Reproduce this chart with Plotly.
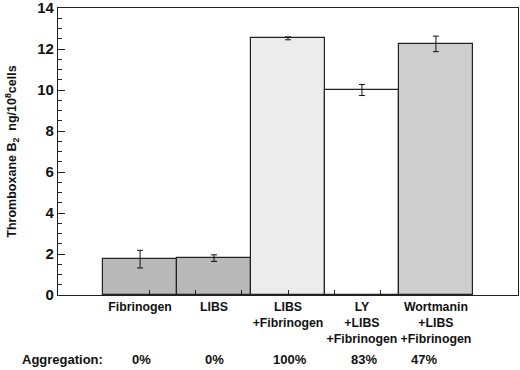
import plotly.graph_objects as go

categories = ["Fibrinogen", "LIBS", "LIBS<br>+Fibrinogen", "LY<br>+LIBS<br>+Fibrinogen", "Wortmanin<br>+LIBS<br>+Fibrinogen"]
txb2 = [1.75, 1.8, 12.52, 10.0, 12.25]
txb2_err = [0.43, 0.16, 0.07, 0.27, 0.38]
aggregation = ["0%", "0%", "100%", "83%", "47%"]
y_ticks = [0, 2, 4, 6, 8, 10, 12, 14]
bottom_minor_ticks = [0.125, 0.75, 1.375, 2.0, 2.625, 3.25]

bar_colors = ["#b9b9b9", "#b9b9b9", "#ececec", "#ffffff", "#cecece"]
agg_xshift = [1, 0, 2, 2, -12]
xpos = list(range(len(categories)))

fig = go.Figure()
fig.add_trace(go.Bar(
    x=xpos, y=txb2, width=1.0,
    marker=dict(color=bar_colors, line=dict(color="#222222", width=1.2)),
    error_y=dict(type="data", array=txb2_err, color="#111111", thickness=1, width=3),
    showlegend=False, hoverinfo="skip",
))

font_b = dict(family="Liberation Sans, Arial, sans-serif", color="#111111", weight="bold")

fig.update_layout(
    width=520, height=370,
    margin=dict(l=58, r=2, t=8, b=75, autoexpand=False),
    paper_bgcolor="white", plot_bgcolor="white",
    bargap=0,
    xaxis=dict(
        range=[-1.11, 5.11], tickvals=xpos, ticktext=categories, tickangle=0,
        ticks="", showgrid=False, zeroline=False, automargin=False,
        showline=True, linecolor="#222222", linewidth=1.2, mirror=True,
        tickfont=dict(size=12.3, **font_b),
        minor=dict(tickvals=bottom_minor_ticks, ticks="inside", ticklen=5, tickcolor="#222222"),
    ),
    yaxis=dict(
        range=[0, 14], tickvals=y_ticks, ticks="inside", ticklen=7, tickcolor="#222222",
        showgrid=False, zeroline=False, ticklabeloverflow="allow", automargin=False,
        showline=True, linecolor="#222222", linewidth=1.2, mirror=True,
        tickfont=dict(size=15, **font_b),
        minor=dict(dtick=0.5, ticks="inside", ticklen=4, tickcolor="#222222"),
        title=dict(text="Thromboxane B<sub>2</sub>  ng/10<sup>8</sup>cells", font=dict(size=12.5, **font_b), standoff=17),
    ),
)

fig.add_annotation(text="Aggregation:", xref="paper", yref="paper", x=-0.083, y=-0.225,
                   xanchor="left", yanchor="middle", showarrow=False, font=dict(size=13, **font_b))
for i, a in enumerate(aggregation):
    fig.add_annotation(text=a, xref="x", yref="paper", x=xpos[i], y=-0.225, xshift=agg_xshift[i],
                       xanchor="center", yanchor="middle", showarrow=False, font=dict(size=13, **font_b))

fig.write_html("out.html", config={"displayModeBar": False},
               post_script="document.body.style.margin='0px';")
